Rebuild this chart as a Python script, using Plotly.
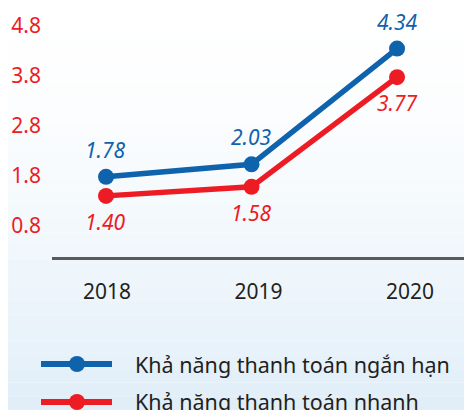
import plotly.graph_objects as go

# data
years = [2018, 2019, 2020]
short_term = [1.78, 2.03, 4.34]   # Khả năng thanh toán ngắn hạn
quick = [1.40, 1.58, 3.77]        # Khả năng thanh toán nhanh
series_names = ["Khả năng thanh toán ngắn hạn", "Khả năng thanh toán nhanh"]
y_ticks = [0.8, 1.8, 2.8, 3.8, 4.8]

BLUE = "#0f62ac"
RED = "#ed1c24"
DARK = "#231f20"
FONT = "Noto Sans"

# the page body adds an 8px margin, so the figure is made that much smaller
PAGE_W, PAGE_H, BODY = 472, 410, 8
W, H = PAGE_W - BODY, PAGE_H - BODY
PLOT_L, PLOT_T, PLOT_B = 52, 10, 257        # plot area in window pixels
PW, PH = PAGE_W - PLOT_L, PLOT_B - PLOT_T


def px_x(p):
    return (p - PLOT_L) / PW


def px_y(p):
    return (PLOT_B - p) / PH


fig = go.Figure()
for vals, color in [(short_term, BLUE), (quick, RED)]:
    fig.add_trace(go.Scatter(
        x=years, y=vals, mode="lines+markers",
        line=dict(color=color, width=5.5),
        marker=dict(color=color, size=16),
        hoverinfo="skip", showlegend=False,
    ))
# carries the year labels
fig.add_trace(go.Scatter(x=years, y=[y_ticks[0]] * 3, xaxis="x2", mode="markers",
                         marker=dict(opacity=0), hoverinfo="skip", showlegend=False))

# value labels
for vals, color, shift in [(short_term, BLUE, 27), (quick, RED, -26)]:
    for x, v in zip(years, vals):
        fig.add_annotation(x=x, y=v, text=f"{v:.2f}", showarrow=False, yshift=shift,
                           font=dict(family=FONT, size=21, color=color, style="italic"))

# soft background gradient
steps = 30
top_c, bot_c = (255, 255, 255), (224, 238, 248)
for i in range(steps):
    t = ((i + 0.5) / steps) ** 1.6
    c = tuple(round(a + (b - a) * t) for a, b in zip(top_c, bot_c))
    fig.add_shape(type="rect", xref="paper", yref="paper", layer="below",
                  x0=px_x(0), x1=px_x(PAGE_W),
                  y0=px_y(PAGE_H * (i + 1) / steps), y1=px_y(PAGE_H * i / steps),
                  fillcolor=f"rgb{c}", line=dict(width=0))

# legend drawn by hand to get the long line symbols
for k, (name, color) in enumerate(zip(series_names, [BLUE, RED])):
    yc = 364 + 38 * k
    fig.add_shape(type="line", xref="paper", yref="paper",
                  x0=px_x(41), x1=px_x(112), y0=px_y(yc), y1=px_y(yc),
                  line=dict(color=color, width=6))
    fig.add_shape(type="circle", xref="paper", yref="paper", fillcolor=color,
                  x0=px_x(69), x1=px_x(85), y0=px_y(yc + 8), y1=px_y(yc - 8),
                  line=dict(width=0))
    fig.add_annotation(xref="paper", yref="paper", x=px_x(133), y=px_y(yc), text=name,
                       xanchor="left", yanchor="middle", showarrow=False,
                       font=dict(family=FONT, size=21.5, color=DARK))

fig.update_layout(
    width=W, height=H,
    margin=dict(l=PLOT_L - BODY, r=0, t=PLOT_T - BODY, b=PAGE_H - PLOT_B),
    paper_bgcolor="white", plot_bgcolor="rgba(0,0,0,0)",
    font=dict(family=FONT),
    xaxis=dict(range=[2017.629, 2020.515], showticklabels=False, showgrid=False,
               zeroline=False, showline=True, linecolor="#58595b", linewidth=2.5, ticks=""),
    xaxis2=dict(range=[2017.637, 2020.409], overlaying="x", anchor="y", side="bottom",
                tickvals=years, ticktext=[str(y) for y in years], showgrid=False,
                zeroline=False, showline=False, ticks="", ticklabelstandoff=20,
                tickfont=dict(family=FONT, size=21, color=DARK)),
    yaxis=dict(range=[0.18, 5.11], tickvals=y_ticks, ticktext=[f"{v:.1f}" for v in y_ticks],
               showgrid=False, zeroline=False, showline=False, ticks="", ticklabelstandoff=10,
               tickfont=dict(family=FONT, size=21, color=RED)),
)

fig.write_html("out.html")
